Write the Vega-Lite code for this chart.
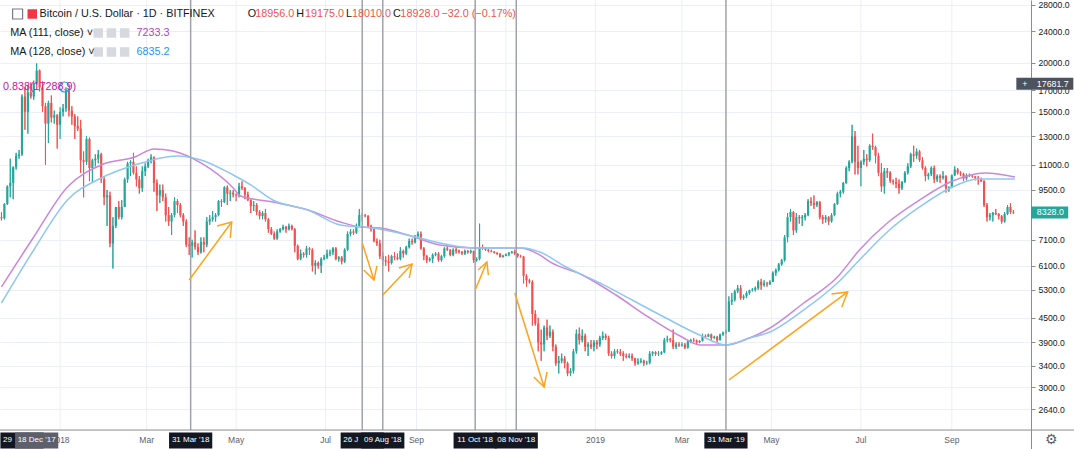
{
  "$schema": "https://vega.github.io/schema/vega-lite/v6.json",
  "width": 1031,
  "height": 449,
  "autosize": {"type": "none"},
  "padding": {"left": 0, "top": 0, "right": 43, "bottom": 0},
  "background": "white",
  "config": {"view": {"stroke": null}, "font": "Liberation Sans"},
  "datasets": {
    "c": [
      {"t":"2017-11-22","o":8100,"h":8350,"l":7950,"c":8050},
      {"t":"2017-11-24","o":8050,"h":8800,"l":8000,"c":8750},
      {"t":"2017-11-26","o":8750,"h":9750,"l":8700,"c":9700},
      {"t":"2017-11-28","o":9700,"h":11400,"l":9100,"c":9900},
      {"t":"2017-11-30","o":9900,"h":10900,"l":9000,"c":10850},
      {"t":"2017-12-02","o":10850,"h":11800,"l":10700,"c":11600},
      {"t":"2017-12-04","o":11600,"h":12000,"l":11400,"c":11700},
      {"t":"2017-12-06","o":11700,"h":16600,"l":11600,"c":16400},
      {"t":"2017-12-08","o":16400,"h":17300,"l":13500,"c":15000},
      {"t":"2017-12-10","o":15000,"h":17500,"l":13200,"c":16800},
      {"t":"2017-12-12","o":16800,"h":17800,"l":16200,"c":16400},
      {"t":"2017-12-14","o":16400,"h":18000,"l":16100,"c":17700},
      {"t":"2017-12-16","o":17700,"h":19900,"l":17600,"c":19100},
      {"t":"2017-12-18","o":19100,"h":19200,"l":16900,"c":17300},
      {"t":"2017-12-20","o":17300,"h":17900,"l":15000,"c":15500},
      {"t":"2017-12-22","o":15500,"h":15800,"l":11000,"c":14000},
      {"t":"2017-12-24","o":14000,"h":16000,"l":12500,"c":15800},
      {"t":"2017-12-26","o":15800,"h":16500,"l":14100,"c":14500},
      {"t":"2017-12-28","o":14500,"h":15100,"l":14000,"c":14700},
      {"t":"2017-12-30","o":14700,"h":14800,"l":12100,"c":13900},
      {"t":"2018-01-01","o":13900,"h":15400,"l":12800,"c":15000},
      {"t":"2018-01-03","o":15000,"h":15700,"l":14600,"c":15300},
      {"t":"2018-01-05","o":15300,"h":17300,"l":15000,"c":17000},
      {"t":"2018-01-07","o":17000,"h":17100,"l":14600,"c":15100},
      {"t":"2018-01-09","o":15100,"h":15500,"l":13900,"c":14600},
      {"t":"2018-01-11","o":14600,"h":14800,"l":12800,"c":13800},
      {"t":"2018-01-13","o":13800,"h":14600,"l":13400,"c":13600},
      {"t":"2018-01-15","o":13600,"h":14300,"l":10500,"c":11300},
      {"t":"2018-01-17","o":11300,"h":11900,"l":9100,"c":11200},
      {"t":"2018-01-19","o":11200,"h":13000,"l":11000,"c":12800},
      {"t":"2018-01-21","o":12800,"h":12900,"l":10000,"c":10800},
      {"t":"2018-01-23","o":10800,"h":11400,"l":9900,"c":11300},
      {"t":"2018-01-25","o":11300,"h":11700,"l":10900,"c":11400},
      {"t":"2018-01-27","o":11400,"h":12000,"l":11100,"c":11700},
      {"t":"2018-01-29","o":11700,"h":11800,"l":9900,"c":10100},
      {"t":"2018-01-31","o":10100,"h":10300,"l":8700,"c":9100},
      {"t":"2018-02-02","o":9100,"h":9500,"l":7700,"c":9200},
      {"t":"2018-02-04","o":9200,"h":9400,"l":6800,"c":6950},
      {"t":"2018-02-06","o":6950,"h":8100,"l":6000,"c":7700},
      {"t":"2018-02-08","o":7700,"h":8600,"l":7600,"c":8600},
      {"t":"2018-02-10","o":8600,"h":8900,"l":8000,"c":8100},
      {"t":"2018-02-12","o":8100,"h":8950,"l":8000,"c":8600},
      {"t":"2018-02-14","o":8600,"h":10200,"l":8600,"c":10100},
      {"t":"2018-02-16","o":10100,"h":11200,"l":9900,"c":11100},
      {"t":"2018-02-18","o":11100,"h":11300,"l":10300,"c":11200},
      {"t":"2018-02-20","o":11200,"h":11800,"l":10400,"c":10500},
      {"t":"2018-02-22","o":10500,"h":10900,"l":9700,"c":10100},
      {"t":"2018-02-24","o":10100,"h":10300,"l":9300,"c":9600},
      {"t":"2018-02-26","o":9600,"h":10900,"l":9400,"c":10600},
      {"t":"2018-02-28","o":10600,"h":11100,"l":10300,"c":10900},
      {"t":"2018-03-02","o":10900,"h":11400,"l":10800,"c":11300},
      {"t":"2018-03-04","o":11300,"h":11700,"l":11100,"c":11500},
      {"t":"2018-03-06","o":11500,"h":11550,"l":9400,"c":9900},
      {"t":"2018-03-08","o":9900,"h":10100,"l":8400,"c":9200},
      {"t":"2018-03-10","o":9200,"h":9800,"l":8800,"c":9500},
      {"t":"2018-03-12","o":9500,"h":9800,"l":8900,"c":9100},
      {"t":"2018-03-14","o":9100,"h":9300,"l":7900,"c":8200},
      {"t":"2018-03-16","o":8200,"h":8600,"l":7700,"c":7900},
      {"t":"2018-03-18","o":7900,"h":8300,"l":7300,"c":8200},
      {"t":"2018-03-20","o":8200,"h":9100,"l":8100,"c":8900},
      {"t":"2018-03-22","o":8900,"h":9000,"l":8300,"c":8700},
      {"t":"2018-03-24","o":8700,"h":8800,"l":8100,"c":8200},
      {"t":"2018-03-26","o":8200,"h":8300,"l":7700,"c":7900},
      {"t":"2018-03-28","o":7900,"h":8000,"l":6800,"c":6900},
      {"t":"2018-03-30","o":6900,"h":7200,"l":6500,"c":6850},
      {"t":"2018-04-01","o":6850,"h":7100,"l":6400,"c":7000},
      {"t":"2018-04-03","o":7000,"h":7500,"l":6700,"c":6800},
      {"t":"2018-04-05","o":6800,"h":6950,"l":6500,"c":6600},
      {"t":"2018-04-07","o":6600,"h":7200,"l":6550,"c":7000},
      {"t":"2018-04-09","o":7000,"h":7200,"l":6600,"c":6900},
      {"t":"2018-04-11","o":6900,"h":8100,"l":6800,"c":7900},
      {"t":"2018-04-13","o":7900,"h":8200,"l":7750,"c":8000},
      {"t":"2018-04-15","o":8000,"h":8400,"l":7900,"c":8100},
      {"t":"2018-04-17","o":8100,"h":8300,"l":7900,"c":8200},
      {"t":"2018-04-19","o":8200,"h":8950,"l":8150,"c":8900},
      {"t":"2018-04-21","o":8900,"h":9000,"l":8600,"c":8850},
      {"t":"2018-04-23","o":8850,"h":9700,"l":8800,"c":9650},
      {"t":"2018-04-25","o":9650,"h":9750,"l":8700,"c":9300},
      {"t":"2018-04-27","o":9300,"h":9500,"l":8900,"c":9350},
      {"t":"2018-04-29","o":9350,"h":9500,"l":9100,"c":9250},
      {"t":"2018-05-01","o":9250,"h":9300,"l":8900,"c":9200},
      {"t":"2018-05-03","o":9200,"h":9900,"l":9100,"c":9700},
      {"t":"2018-05-05","o":9700,"h":9990,"l":9500,"c":9600},
      {"t":"2018-05-07","o":9600,"h":9650,"l":9000,"c":9250},
      {"t":"2018-05-09","o":9250,"h":9400,"l":8900,"c":8950},
      {"t":"2018-05-11","o":8950,"h":9000,"l":8300,"c":8650},
      {"t":"2018-05-13","o":8650,"h":8900,"l":8400,"c":8700},
      {"t":"2018-05-15","o":8700,"h":8800,"l":8200,"c":8350},
      {"t":"2018-05-17","o":8350,"h":8450,"l":8000,"c":8150},
      {"t":"2018-05-19","o":8150,"h":8400,"l":8000,"c":8300},
      {"t":"2018-05-21","o":8300,"h":8500,"l":7900,"c":8000},
      {"t":"2018-05-23","o":8000,"h":8050,"l":7400,"c":7550},
      {"t":"2018-05-25","o":7550,"h":7650,"l":7300,"c":7350},
      {"t":"2018-05-27","o":7350,"h":7450,"l":7100,"c":7150},
      {"t":"2018-05-29","o":7150,"h":7550,"l":7100,"c":7450},
      {"t":"2018-05-31","o":7450,"h":7600,"l":7400,"c":7550},
      {"t":"2018-06-02","o":7550,"h":7750,"l":7500,"c":7650},
      {"t":"2018-06-04","o":7650,"h":7700,"l":7400,"c":7550},
      {"t":"2018-06-06","o":7550,"h":7800,"l":7500,"c":7700},
      {"t":"2018-06-08","o":7700,"h":7750,"l":7500,"c":7550},
      {"t":"2018-06-10","o":7550,"h":7600,"l":6600,"c":6850},
      {"t":"2018-06-12","o":6850,"h":6900,"l":6300,"c":6350},
      {"t":"2018-06-14","o":6350,"h":6700,"l":6300,"c":6550},
      {"t":"2018-06-16","o":6550,"h":6600,"l":6400,"c":6500},
      {"t":"2018-06-18","o":6500,"h":6850,"l":6400,"c":6750},
      {"t":"2018-06-20","o":6750,"h":6800,"l":6500,"c":6700},
      {"t":"2018-06-22","o":6700,"h":6750,"l":5900,"c":6100},
      {"t":"2018-06-24","o":6100,"h":6300,"l":5800,"c":6200},
      {"t":"2018-06-26","o":6200,"h":6250,"l":6000,"c":6100},
      {"t":"2018-06-28","o":6100,"h":6400,"l":5850,"c":6350},
      {"t":"2018-06-30","o":6350,"h":6500,"l":6300,"c":6400},
      {"t":"2018-07-02","o":6400,"h":6700,"l":6350,"c":6550},
      {"t":"2018-07-04","o":6550,"h":6700,"l":6450,"c":6600},
      {"t":"2018-07-06","o":6600,"h":6800,"l":6500,"c":6750},
      {"t":"2018-07-08","o":6750,"h":6800,"l":6300,"c":6350},
      {"t":"2018-07-10","o":6350,"h":6450,"l":6250,"c":6400},
      {"t":"2018-07-12","o":6400,"h":6450,"l":6150,"c":6250},
      {"t":"2018-07-14","o":6250,"h":6750,"l":6200,"c":6700},
      {"t":"2018-07-16","o":6700,"h":7450,"l":6650,"c":7350},
      {"t":"2018-07-18","o":7350,"h":7550,"l":7250,"c":7450},
      {"t":"2018-07-20","o":7450,"h":7550,"l":7300,"c":7400},
      {"t":"2018-07-22","o":7400,"h":7800,"l":7350,"c":7700},
      {"t":"2018-07-24","o":7700,"h":8500,"l":7650,"c":8200},
      {"t":"2018-07-26","o":8200,"h":8300,"l":7900,"c":8180},
      {"t":"2018-07-28","o":8180,"h":8250,"l":8100,"c":8150},
      {"t":"2018-07-30","o":8150,"h":8200,"l":7600,"c":7700},
      {"t":"2018-08-01","o":7700,"h":7750,"l":7450,"c":7550},
      {"t":"2018-08-03","o":7550,"h":7600,"l":7000,"c":7050},
      {"t":"2018-08-05","o":7050,"h":7150,"l":6850,"c":6950},
      {"t":"2018-08-07","o":6950,"h":7100,"l":6350,"c":6450},
      {"t":"2018-08-09","o":6450,"h":6600,"l":6100,"c":6300},
      {"t":"2018-08-11","o":6300,"h":6450,"l":6100,"c":6250},
      {"t":"2018-08-13","o":6250,"h":6500,"l":5900,"c":6200},
      {"t":"2018-08-15","o":6200,"h":6500,"l":6150,"c":6450},
      {"t":"2018-08-17","o":6450,"h":6600,"l":6300,"c":6400},
      {"t":"2018-08-19","o":6400,"h":6550,"l":6300,"c":6350},
      {"t":"2018-08-21","o":6350,"h":6800,"l":6300,"c":6650},
      {"t":"2018-08-23","o":6650,"h":6700,"l":6400,"c":6550},
      {"t":"2018-08-25","o":6550,"h":6850,"l":6500,"c":6800},
      {"t":"2018-08-27","o":6800,"h":7150,"l":6750,"c":7050},
      {"t":"2018-08-29","o":7050,"h":7150,"l":6900,"c":7000},
      {"t":"2018-08-31","o":7000,"h":7300,"l":6950,"c":7250},
      {"t":"2018-09-02","o":7250,"h":7450,"l":7200,"c":7350},
      {"t":"2018-09-04","o":7350,"h":7450,"l":6700,"c":6750},
      {"t":"2018-09-06","o":6750,"h":6800,"l":6300,"c":6450},
      {"t":"2018-09-08","o":6450,"h":6500,"l":6200,"c":6300},
      {"t":"2018-09-10","o":6300,"h":6400,"l":6250,"c":6350},
      {"t":"2018-09-12","o":6350,"h":6550,"l":6200,"c":6500},
      {"t":"2018-09-14","o":6500,"h":6600,"l":6450,"c":6550},
      {"t":"2018-09-16","o":6550,"h":6600,"l":6250,"c":6300},
      {"t":"2018-09-18","o":6300,"h":6500,"l":6250,"c":6450},
      {"t":"2018-09-20","o":6450,"h":6800,"l":6400,"c":6750},
      {"t":"2018-09-22","o":6750,"h":6850,"l":6650,"c":6700},
      {"t":"2018-09-24","o":6700,"h":6720,"l":6450,"c":6500},
      {"t":"2018-09-26","o":6500,"h":6750,"l":6450,"c":6700},
      {"t":"2018-09-28","o":6700,"h":6800,"l":6550,"c":6650},
      {"t":"2018-09-30","o":6650,"h":6700,"l":6550,"c":6600},
      {"t":"2018-10-02","o":6600,"h":6650,"l":6500,"c":6550},
      {"t":"2018-10-04","o":6550,"h":6700,"l":6500,"c":6650},
      {"t":"2018-10-06","o":6650,"h":6680,"l":6550,"c":6600},
      {"t":"2018-10-08","o":6600,"h":6700,"l":6550,"c":6650},
      {"t":"2018-10-10","o":6650,"h":6660,"l":6200,"c":6300},
      {"t":"2018-10-12","o":6300,"h":6400,"l":6250,"c":6350},
      {"t":"2018-10-14","o":6350,"h":7800,"l":6300,"c":6800},
      {"t":"2018-10-16","o":6800,"h":6900,"l":6700,"c":6750},
      {"t":"2018-10-18","o":6750,"h":6800,"l":6650,"c":6700},
      {"t":"2018-10-20","o":6700,"h":6720,"l":6600,"c":6650},
      {"t":"2018-10-22","o":6650,"h":6700,"l":6600,"c":6620},
      {"t":"2018-10-24","o":6620,"h":6650,"l":6550,"c":6580},
      {"t":"2018-10-26","o":6580,"h":6600,"l":6500,"c":6540},
      {"t":"2018-10-28","o":6540,"h":6560,"l":6400,"c":6420},
      {"t":"2018-10-30","o":6420,"h":6500,"l":6400,"c":6460},
      {"t":"2018-11-01","o":6460,"h":6550,"l":6450,"c":6520},
      {"t":"2018-11-03","o":6520,"h":6600,"l":6450,"c":6580},
      {"t":"2018-11-05","o":6580,"h":6650,"l":6550,"c":6620},
      {"t":"2018-11-07","o":6620,"h":6700,"l":6500,"c":6540},
      {"t":"2018-11-09","o":6540,"h":6560,"l":6400,"c":6450},
      {"t":"2018-11-11","o":6450,"h":6500,"l":6400,"c":6440},
      {"t":"2018-11-13","o":6440,"h":6460,"l":5500,"c":5750},
      {"t":"2018-11-15","o":5750,"h":5800,"l":5400,"c":5600},
      {"t":"2018-11-17","o":5600,"h":5650,"l":5500,"c":5550},
      {"t":"2018-11-19","o":5550,"h":5600,"l":4300,"c":4600},
      {"t":"2018-11-21","o":4600,"h":4700,"l":4300,"c":4350},
      {"t":"2018-11-23","o":4350,"h":4500,"l":3700,"c":3900},
      {"t":"2018-11-25","o":3900,"h":4200,"l":3500,"c":3850},
      {"t":"2018-11-27","o":3850,"h":4300,"l":3700,"c":4250},
      {"t":"2018-11-29","o":4250,"h":4450,"l":3950,"c":4050},
      {"t":"2018-12-01","o":4050,"h":4300,"l":4000,"c":4150},
      {"t":"2018-12-03","o":4150,"h":4200,"l":3700,"c":3800},
      {"t":"2018-12-05","o":3800,"h":3850,"l":3400,"c":3450},
      {"t":"2018-12-07","o":3450,"h":3600,"l":3250,"c":3500},
      {"t":"2018-12-09","o":3500,"h":3650,"l":3450,"c":3550},
      {"t":"2018-12-11","o":3550,"h":3600,"l":3350,"c":3450},
      {"t":"2018-12-13","o":3450,"h":3480,"l":3200,"c":3250},
      {"t":"2018-12-15","o":3250,"h":3350,"l":3200,"c":3300},
      {"t":"2018-12-17","o":3300,"h":3750,"l":3250,"c":3700},
      {"t":"2018-12-19","o":3700,"h":4200,"l":3650,"c":4100},
      {"t":"2018-12-21","o":4100,"h":4250,"l":3850,"c":3950},
      {"t":"2018-12-23","o":3950,"h":4200,"l":3900,"c":4050},
      {"t":"2018-12-25","o":4050,"h":4100,"l":3700,"c":3800},
      {"t":"2018-12-27","o":3800,"h":3900,"l":3600,"c":3850},
      {"t":"2018-12-29","o":3850,"h":3950,"l":3750,"c":3800},
      {"t":"2018-12-31","o":3800,"h":3950,"l":3700,"c":3900},
      {"t":"2019-01-02","o":3900,"h":3950,"l":3750,"c":3850},
      {"t":"2019-01-04","o":3850,"h":4050,"l":3800,"c":4000},
      {"t":"2019-01-06","o":4000,"h":4150,"l":3950,"c":4050},
      {"t":"2019-01-08","o":4050,"h":4100,"l":3950,"c":4000},
      {"t":"2019-01-10","o":4000,"h":4050,"l":3600,"c":3650},
      {"t":"2019-01-12","o":3650,"h":3700,"l":3550,"c":3600},
      {"t":"2019-01-14","o":3600,"h":3750,"l":3550,"c":3700},
      {"t":"2019-01-16","o":3700,"h":3750,"l":3650,"c":3680},
      {"t":"2019-01-18","o":3680,"h":3750,"l":3600,"c":3650},
      {"t":"2019-01-20","o":3650,"h":3700,"l":3500,"c":3600},
      {"t":"2019-01-22","o":3600,"h":3650,"l":3550,"c":3580},
      {"t":"2019-01-24","o":3580,"h":3650,"l":3550,"c":3600},
      {"t":"2019-01-26","o":3600,"h":3650,"l":3500,"c":3550},
      {"t":"2019-01-28","o":3550,"h":3560,"l":3400,"c":3450},
      {"t":"2019-01-30","o":3450,"h":3550,"l":3420,"c":3480},
      {"t":"2019-02-01","o":3480,"h":3550,"l":3450,"c":3500},
      {"t":"2019-02-03","o":3500,"h":3520,"l":3400,"c":3450},
      {"t":"2019-02-05","o":3450,"h":3500,"l":3420,"c":3460},
      {"t":"2019-02-07","o":3460,"h":3700,"l":3430,"c":3650},
      {"t":"2019-02-09","o":3650,"h":3700,"l":3600,"c":3680},
      {"t":"2019-02-11","o":3680,"h":3700,"l":3600,"c":3640},
      {"t":"2019-02-13","o":3640,"h":3700,"l":3600,"c":3650},
      {"t":"2019-02-15","o":3650,"h":3700,"l":3620,"c":3680},
      {"t":"2019-02-17","o":3680,"h":4000,"l":3660,"c":3950},
      {"t":"2019-02-19","o":3950,"h":4050,"l":3900,"c":3970},
      {"t":"2019-02-21","o":3970,"h":4000,"l":3900,"c":3950},
      {"t":"2019-02-23","o":3950,"h":4200,"l":3750,"c":3800},
      {"t":"2019-02-25","o":3800,"h":3900,"l":3750,"c":3850},
      {"t":"2019-02-27","o":3850,"h":3900,"l":3800,"c":3830},
      {"t":"2019-03-01","o":3830,"h":3900,"l":3800,"c":3850},
      {"t":"2019-03-03","o":3850,"h":3880,"l":3750,"c":3780},
      {"t":"2019-03-05","o":3780,"h":3950,"l":3760,"c":3920},
      {"t":"2019-03-07","o":3920,"h":3980,"l":3880,"c":3950},
      {"t":"2019-03-09","o":3950,"h":4000,"l":3900,"c":3940},
      {"t":"2019-03-11","o":3940,"h":3960,"l":3860,"c":3900},
      {"t":"2019-03-13","o":3900,"h":3950,"l":3880,"c":3930},
      {"t":"2019-03-15","o":3930,"h":4100,"l":3920,"c":4050},
      {"t":"2019-03-17","o":4050,"h":4080,"l":4000,"c":4030},
      {"t":"2019-03-19","o":4030,"h":4100,"l":4020,"c":4080},
      {"t":"2019-03-21","o":4080,"h":4100,"l":3950,"c":4000},
      {"t":"2019-03-23","o":4000,"h":4050,"l":3980,"c":4020},
      {"t":"2019-03-25","o":4020,"h":4050,"l":3900,"c":3950},
      {"t":"2019-03-27","o":3950,"h":4100,"l":3940,"c":4080},
      {"t":"2019-03-29","o":4080,"h":4150,"l":4050,"c":4120},
      {"t":"2019-03-31","o":4120,"h":4200,"l":4100,"c":4150},
      {"t":"2019-04-02","o":4150,"h":5100,"l":4150,"c":4950},
      {"t":"2019-04-04","o":4950,"h":5200,"l":4850,"c":5000},
      {"t":"2019-04-06","o":5000,"h":5300,"l":4950,"c":5250},
      {"t":"2019-04-08","o":5250,"h":5450,"l":5200,"c":5350},
      {"t":"2019-04-10","o":5350,"h":5450,"l":5000,"c":5050},
      {"t":"2019-04-12","o":5050,"h":5150,"l":5000,"c":5100},
      {"t":"2019-04-14","o":5100,"h":5250,"l":5050,"c":5200},
      {"t":"2019-04-16","o":5200,"h":5300,"l":5150,"c":5280},
      {"t":"2019-04-18","o":5280,"h":5350,"l":5250,"c":5300},
      {"t":"2019-04-20","o":5300,"h":5400,"l":5250,"c":5350},
      {"t":"2019-04-22","o":5350,"h":5600,"l":5300,"c":5550},
      {"t":"2019-04-24","o":5550,"h":5650,"l":5300,"c":5450},
      {"t":"2019-04-26","o":5450,"h":5600,"l":5400,"c":5500},
      {"t":"2019-04-28","o":5500,"h":5550,"l":5400,"c":5480},
      {"t":"2019-04-30","o":5480,"h":5600,"l":5450,"c":5550},
      {"t":"2019-05-02","o":5550,"h":5900,"l":5550,"c":5850},
      {"t":"2019-05-04","o":5850,"h":6000,"l":5750,"c":5950},
      {"t":"2019-05-06","o":5950,"h":6200,"l":5900,"c":6150},
      {"t":"2019-05-08","o":6150,"h":6350,"l":6100,"c":6300},
      {"t":"2019-05-10","o":6300,"h":7300,"l":6250,"c":7200},
      {"t":"2019-05-12","o":7200,"h":8300,"l":7000,"c":8100},
      {"t":"2019-05-14","o":8100,"h":8500,"l":7900,"c":8350},
      {"t":"2019-05-16","o":8350,"h":8400,"l":7300,"c":7500},
      {"t":"2019-05-18","o":7500,"h":8300,"l":7400,"c":8100},
      {"t":"2019-05-20","o":8100,"h":8200,"l":7800,"c":8050},
      {"t":"2019-05-22","o":8050,"h":8200,"l":7700,"c":8100},
      {"t":"2019-05-24","o":8100,"h":8300,"l":7950,"c":8200},
      {"t":"2019-05-26","o":8200,"h":9000,"l":8150,"c":8900},
      {"t":"2019-05-28","o":8900,"h":9100,"l":8650,"c":8800},
      {"t":"2019-05-30","o":8800,"h":9200,"l":8500,"c":8700},
      {"t":"2019-06-01","o":8700,"h":8900,"l":8600,"c":8850},
      {"t":"2019-06-03","o":8850,"h":8900,"l":8000,"c":8100},
      {"t":"2019-06-05","o":8100,"h":8200,"l":7800,"c":8000},
      {"t":"2019-06-07","o":8000,"h":8200,"l":7850,"c":8100},
      {"t":"2019-06-09","o":8100,"h":8150,"l":7750,"c":7900},
      {"t":"2019-06-11","o":7900,"h":8300,"l":7850,"c":8200},
      {"t":"2019-06-13","o":8200,"h":8800,"l":8150,"c":8750},
      {"t":"2019-06-15","o":8750,"h":9400,"l":8700,"c":9300},
      {"t":"2019-06-17","o":9300,"h":9500,"l":9100,"c":9400},
      {"t":"2019-06-19","o":9400,"h":9950,"l":9300,"c":9900},
      {"t":"2019-06-21","o":9900,"h":10900,"l":9850,"c":10800},
      {"t":"2019-06-23","o":10800,"h":11300,"l":10600,"c":11200},
      {"t":"2019-06-25","o":11200,"h":13900,"l":11100,"c":13000},
      {"t":"2019-06-27","o":13000,"h":13400,"l":10400,"c":11200},
      {"t":"2019-06-29","o":11200,"h":12300,"l":10400,"c":10800},
      {"t":"2019-07-01","o":10800,"h":11300,"l":9700,"c":11200},
      {"t":"2019-07-03","o":11200,"h":12000,"l":11000,"c":11400},
      {"t":"2019-07-05","o":11400,"h":11700,"l":10900,"c":11300},
      {"t":"2019-07-07","o":11300,"h":12400,"l":11200,"c":12300},
      {"t":"2019-07-09","o":12300,"h":13200,"l":12000,"c":12200},
      {"t":"2019-07-11","o":12200,"h":12300,"l":11100,"c":11600},
      {"t":"2019-07-13","o":11600,"h":11800,"l":10300,"c":10500},
      {"t":"2019-07-15","o":10500,"h":11100,"l":9400,"c":9700},
      {"t":"2019-07-17","o":9700,"h":10800,"l":9300,"c":10600},
      {"t":"2019-07-19","o":10600,"h":10800,"l":10200,"c":10500},
      {"t":"2019-07-21","o":10500,"h":10600,"l":9900,"c":10000},
      {"t":"2019-07-23","o":10000,"h":10100,"l":9800,"c":9950},
      {"t":"2019-07-25","o":9950,"h":10200,"l":9600,"c":9850},
      {"t":"2019-07-27","o":9850,"h":10100,"l":9300,"c":9600},
      {"t":"2019-07-29","o":9600,"h":10000,"l":9500,"c":9950},
      {"t":"2019-07-31","o":9950,"h":10600,"l":9900,"c":10500},
      {"t":"2019-08-02","o":10500,"h":11100,"l":10400,"c":10900},
      {"t":"2019-08-04","o":10900,"h":11800,"l":10800,"c":11700},
      {"t":"2019-08-06","o":11700,"h":12300,"l":11200,"c":11600},
      {"t":"2019-08-08","o":11600,"h":12100,"l":11400,"c":11900},
      {"t":"2019-08-10","o":11900,"h":12000,"l":11200,"c":11300},
      {"t":"2019-08-12","o":11300,"h":11500,"l":10700,"c":10800},
      {"t":"2019-08-14","o":10800,"h":10900,"l":10000,"c":10300},
      {"t":"2019-08-16","o":10300,"h":10500,"l":10100,"c":10400},
      {"t":"2019-08-18","o":10400,"h":10900,"l":10300,"c":10800},
      {"t":"2019-08-20","o":10800,"h":10950,"l":9900,"c":10100},
      {"t":"2019-08-22","o":10100,"h":10400,"l":9950,"c":10300},
      {"t":"2019-08-24","o":10300,"h":10400,"l":9900,"c":10200},
      {"t":"2019-08-26","o":10200,"h":10600,"l":10100,"c":10300},
      {"t":"2019-08-28","o":10300,"h":10350,"l":9350,"c":9600},
      {"t":"2019-08-30","o":9600,"h":9700,"l":9400,"c":9650},
      {"t":"2019-09-01","o":9650,"h":10400,"l":9600,"c":10350},
      {"t":"2019-09-03","o":10350,"h":10900,"l":10300,"c":10700},
      {"t":"2019-09-05","o":10700,"h":10800,"l":10400,"c":10500},
      {"t":"2019-09-07","o":10500,"h":10600,"l":10300,"c":10450},
      {"t":"2019-09-09","o":10450,"h":10500,"l":10000,"c":10150},
      {"t":"2019-09-11","o":10150,"h":10450,"l":10050,"c":10350},
      {"t":"2019-09-13","o":10350,"h":10450,"l":10250,"c":10300},
      {"t":"2019-09-15","o":10300,"h":10400,"l":10200,"c":10280},
      {"t":"2019-09-17","o":10280,"h":10300,"l":10050,"c":10200},
      {"t":"2019-09-19","o":10200,"h":10300,"l":9800,"c":10150},
      {"t":"2019-09-21","o":10150,"h":10200,"l":9950,"c":10000},
      {"t":"2019-09-23","o":10000,"h":10050,"l":8600,"c":8700},
      {"t":"2019-09-25","o":8700,"h":8800,"l":7900,"c":8100},
      {"t":"2019-09-27","o":8100,"h":8300,"l":7950,"c":8200},
      {"t":"2019-09-29","o":8200,"h":8350,"l":7900,"c":8300},
      {"t":"2019-10-01","o":8300,"h":8500,"l":8200,"c":8250},
      {"t":"2019-10-03","o":8250,"h":8300,"l":8000,"c":8150},
      {"t":"2019-10-05","o":8150,"h":8200,"l":7800,"c":7900},
      {"t":"2019-10-07","o":7900,"h":8350,"l":7850,"c":8250},
      {"t":"2019-10-09","o":8250,"h":8700,"l":8200,"c":8600},
      {"t":"2019-10-11","o":8600,"h":8800,"l":8250,"c":8350},
      {"t":"2019-10-13","o":8350,"h":8450,"l":8250,"c":8328}
    ],
    "ma": [
      {"t":"2017-11-22","v":5390,"s":"a"},{"t":"2017-12-14","v":7216,"s":"a"},{"t":"2018-01-06","v":9666,"s":"a"},
      {"t":"2018-01-29","v":10993,"s":"a"},{"t":"2018-02-21","v":11517,"s":"a"},{"t":"2018-03-06","v":12068,"s":"a"},
      {"t":"2018-03-19","v":11928,"s":"a"},{"t":"2018-04-07","v":11122,"s":"a"},{"t":"2018-04-29","v":9610,"s":"a"},
      {"t":"2018-05-04","v":9170,"s":"a"},{"t":"2018-05-26","v":8854,"s":"a"},{"t":"2018-06-19","v":8450,"s":"a"},
      {"t":"2018-07-11","v":7876,"s":"a"},{"t":"2018-07-25","v":7650,"s":"a"},{"t":"2018-08-07","v":7605,"s":"a"},
      {"t":"2018-08-26","v":7302,"s":"a"},{"t":"2018-09-17","v":6885,"s":"a"},{"t":"2018-10-10","v":6768,"s":"a"},
      {"t":"2018-11-02","v":6768,"s":"a"},{"t":"2018-11-11","v":6768,"s":"a"},{"t":"2018-11-24","v":6496,"s":"a"},
      {"t":"2018-12-01","v":6236,"s":"a"},{"t":"2018-12-23","v":5779,"s":"a"},{"t":"2019-01-15","v":5141,"s":"a"},
      {"t":"2019-02-06","v":4522,"s":"a"},{"t":"2019-03-01","v":4021,"s":"a"},{"t":"2019-03-13","v":3839,"s":"a"},
      {"t":"2019-03-31","v":3839,"s":"a"},{"t":"2019-04-16","v":3998,"s":"a"},{"t":"2019-04-30","v":4239,"s":"a"},
      {"t":"2019-05-23","v":4906,"s":"a"},{"t":"2019-06-15","v":5712,"s":"a"},{"t":"2019-06-30","v":6688,"s":"a"},
      {"t":"2019-07-19","v":7832,"s":"a"},{"t":"2019-08-10","v":8957,"s":"a"},{"t":"2019-08-31","v":9951,"s":"a"},
      {"t":"2019-09-24","v":10489,"s":"a"},{"t":"2019-10-14","v":10245,"s":"a"},
      {"t":"2017-11-22","v":4906,"s":"b"},{"t":"2017-12-14","v":6688,"s":"b"},{"t":"2018-01-06","v":8957,"s":"b"},
      {"t":"2018-01-29","v":10187,"s":"b"},{"t":"2018-02-21","v":10993,"s":"b"},{"t":"2018-03-22","v":11586,"s":"b"},
      {"t":"2018-04-07","v":11318,"s":"b"},{"t":"2018-04-29","v":10366,"s":"b"},{"t":"2018-05-11","v":9781,"s":"b"},
      {"t":"2018-05-26","v":8957,"s":"b"},{"t":"2018-06-19","v":8450,"s":"b"},{"t":"2018-07-11","v":7742,"s":"b"},
      {"t":"2018-08-02","v":7605,"s":"b"},{"t":"2018-08-26","v":7302,"s":"b"},{"t":"2018-09-17","v":6967,"s":"b"},
      {"t":"2018-10-10","v":6768,"s":"b"},{"t":"2018-11-13","v":6768,"s":"b"},{"t":"2018-11-24","v":6611,"s":"b"},
      {"t":"2018-12-12","v":6056,"s":"b"},{"t":"2019-01-04","v":5516,"s":"b"},{"t":"2019-01-26","v":4992,"s":"b"},
      {"t":"2019-02-18","v":4494,"s":"b"},{"t":"2019-03-13","v":4068,"s":"b"},{"t":"2019-03-31","v":3839,"s":"b"},
      {"t":"2019-04-16","v":3998,"s":"b"},{"t":"2019-04-30","v":4141,"s":"b"},{"t":"2019-05-23","v":4710,"s":"b"},
      {"t":"2019-06-15","v":5516,"s":"b"},{"t":"2019-06-30","v":6308,"s":"b"},{"t":"2019-07-19","v":7431,"s":"b"},
      {"t":"2019-08-10","v":8599,"s":"b"},{"t":"2019-08-31","v":9610,"s":"b"},{"t":"2019-09-19","v":10128,"s":"b"},
      {"t":"2019-10-14","v":10128,"s":"b"}
    ],
    "ar": [
      {"g":"1s","i":0,"t":"2018-03-30","p":5614},{"g":"1s","i":1,"t":"2018-04-28","p":7876},
      {"g":"1h","i":0,"t":"2018-04-18","p":7695},{"g":"1h","i":1,"t":"2018-04-28","p":7876},{"g":"1h","i":2,"t":"2018-04-27","p":7174},
      {"g":"2s","i":0,"t":"2018-07-26","p":6967},{"g":"2s","i":1,"t":"2018-08-03","p":5614},
      {"g":"2h","i":0,"t":"2018-08-05","p":6093},{"g":"2h","i":1,"t":"2018-08-03","p":5614},{"g":"2h","i":2,"t":"2018-07-27","p":5950},
      {"g":"3s","i":0,"t":"2018-08-09","p":5141},{"g":"3s","i":1,"t":"2018-08-29","p":6163},
      {"g":"3h","i":0,"t":"2018-08-20","p":6020},{"g":"3h","i":1,"t":"2018-08-29","p":6163},{"g":"3h","i":2,"t":"2018-08-27","p":5679},
      {"g":"4s","i":0,"t":"2018-10-11","p":5295},{"g":"4s","i":1,"t":"2018-10-19","p":6236},
      {"g":"4h","i":0,"t":"2018-10-13","p":5950},{"g":"4h","i":1,"t":"2018-10-19","p":6236},{"g":"4h","i":2,"t":"2018-10-20","p":5779},
      {"g":"5s","i":0,"t":"2018-11-07","p":5202},{"g":"5s","i":1,"t":"2018-11-27","p":3004},
      {"g":"5h","i":0,"t":"2018-11-29","p":3279},{"g":"5h","i":1,"t":"2018-11-27","p":3004},{"g":"5h","i":2,"t":"2018-11-20","p":3184},
      {"g":"6s","i":0,"t":"2019-04-02","p":3128},{"g":"6s","i":1,"t":"2019-06-22","p":5233},
      {"g":"6h","i":0,"t":"2019-06-11","p":5172},{"g":"6h","i":1,"t":"2019-06-22","p":5233},{"g":"6h","i":2,"t":"2019-06-18","p":4793}
    ],
    "ev": [
      {"t":"2018-03-31"},{"t":"2018-07-26"},{"t":"2018-08-09"},{"t":"2018-10-11"},{"t":"2018-11-08"},{"t":"2019-03-31"}
    ],
    "mo": [
      {"t":"2018-01-01","s":"2018","k":"m"},{"t":"2018-03-01","s":"Mar","k":"m"},{"t":"2018-05-01","s":"May","k":"m"},
      {"t":"2018-07-01","s":"Jul","k":"m"},{"t":"2018-09-01","s":"Sep","k":"m"},{"t":"2018-11-01","s":"Nov","k":"n"},
      {"t":"2019-01-01","s":"2019","k":"m"},{"t":"2019-03-01","s":"Mar","k":"m"},{"t":"2019-05-01","s":"May","k":"m"},
      {"t":"2019-07-01","s":"Jul","k":"m"},{"t":"2019-09-01","s":"Sep","k":"m"},{"t":"2019-11-08","s":"⚙","k":"gear"}
    ],
    "bx": [
      {"t":"2017-12-06","s":"29 Nov '17","k":"b","z":0},
      {"t":"2018-07-26","s":"26 Jul '18","k":"b","z":0},
      {"t":"2017-12-16","s":"18 Dec '17","k":"g","z":1},
      {"t":"2018-03-31","s":"31 Mar '18","k":"b","z":1},
      {"t":"2018-08-09","s":"09 Aug '18","k":"b","z":1},
      {"t":"2018-10-11","s":"11 Oct '18","k":"b","z":1},
      {"t":"2018-11-08","s":"08 Nov '18","k":"b","z":1},
      {"t":"2019-03-31","s":"31 Mar '19","k":"b","z":1}
    ],
    "ab": [
      {"t":"2019-10-15","p":17681.7,"k":"dark"},
      {"t":"2019-10-25","p":8328,"k":"teal"}
    ],
    "ico": [
      {"t":"2017-12-13","p":26566,"k":"f"},
      {"t":"2018-01-27","p":23770,"k":"i"},{"t":"2018-02-05","p":23770,"k":"i"},{"t":"2018-02-14","p":23770,"k":"i"},
      {"t":"2018-01-27","p":21275,"k":"i"},{"t":"2018-02-05","p":21275,"k":"i"},{"t":"2018-02-14","p":21275,"k":"i"}
    ],
    "ring": [
      {"t":"2018-01-04","p":17338,"k":"circle"},
      {"t":"2017-12-03","p":26566,"k":"square"}
    ],
    "txt": [
      {"t":"2017-12-18","p":26566,"s":"Bitcoin / U.S. Dollar · 1D · BITFINEX","k":"t"},
      {"t":"2018-05-09","p":26566,"s":"O","k":"t"},
      {"t":"2018-05-14","p":26566,"s":"18956.0","k":"r"},
      {"t":"2018-06-11","p":26566,"s":"H","k":"t"},
      {"t":"2018-06-17","p":26566,"s":"19175.0","k":"r"},
      {"t":"2018-07-15","p":26566,"s":"L","k":"t"},
      {"t":"2018-07-19","p":26566,"s":"18010.0","k":"r"},
      {"t":"2018-08-16","p":26566,"s":"C","k":"t"},
      {"t":"2018-08-21","p":26566,"s":"18928.0","k":"r"},
      {"t":"2018-09-18","p":26566,"s":"−32.0 (−0.17%)","k":"r"},
      {"t":"2017-11-28","p":23770,"s":"MA (111, close) ˅","k":"t"},
      {"t":"2018-02-22","p":23770,"s":"7233.3","k":"m1"},
      {"t":"2017-11-28","p":21275,"s":"MA (128, close) ˅","k":"t"},
      {"t":"2018-02-22","p":21275,"s":"6835.2","k":"m2"},
      {"t":"2017-11-23","p":17338,"s":"0.838(17288.9)","k":"x"},
      {"t":"2019-10-29","p":17681.7,"s":"17681.7","k":"w"},
      {"t":"2019-10-29","p":8328,"s":"8328.0","k":"w"},
      {"t":"2019-10-19","p":17681.7,"s":"+","k":"w"}
    ]
  },
  "resolve": {"scale": {"color": "independent", "shape": "independent", "size": "independent"}},
  "layer": [
    {
      "data": {"name": "c"},
      "mark": {"type": "rule", "strokeWidth": 1},
      "encoding": {
        "x": {"field": "t", "type": "temporal", "axis": null,
              "scale": {"domain": [{"year": 2017, "month": 11, "date": 21, "utc": true}, {"year": 2019, "month": 10, "date": 25, "utc": true}]}},
        "y": {"field": "l", "type": "quantitative",
              "scale": {"type": "log", "domain": [2090, 28830], "nice": false},
              "axis": {"orient": "right", "title": null, "format": ".1f", "labelOverlap": false,
                       "values": [2640, 3000, 3400, 3900, 4500, 5300, 6100, 7100, 9500, 11000, 13000, 15000, 17000, 20000, 24000, 28000],
                       "grid": true, "gridColor": "#eceff5", "domainColor": "#8a8d96", "tickColor": "#8a8d96", "tickSize": 4,
                       "labelPadding": 3, "labelColor": "#131722", "labelFontSize": 8.6, "labelFont": "Liberation Sans"}},
        "y2": {"field": "h"},
        "color": {"condition": {"test": "datum.c >= datum.o", "value": "#26a69a"}, "value": "#ef5350"}
      }
    },
    {
      "data": {"name": "mo"},
      "transform": [{"filter": "datum.k != 'gear'"}],
      "mark": {"type": "rule", "color": "#eceff5", "strokeWidth": 1},
      "encoding": {
        "x": {"field": "t", "type": "temporal", "axis": null},
        "y": {"datum": 28830},
        "y2": {"datum": 2335}
      }
    },
    {
      "data": {"name": "c"},
      "mark": {"type": "rule", "strokeWidth": 1},
      "encoding": {
        "x": {"field": "t", "type": "temporal", "axis": null},
        "y": {"field": "l", "type": "quantitative"},
        "y2": {"field": "h"},
        "color": {"condition": {"test": "datum.c >= datum.o", "value": "#26a69a"}, "value": "#ef5350"}
      }
    },
    {
      "data": {"name": "c"},
      "mark": {"type": "rule", "strokeWidth": 2.2},
      "encoding": {
        "x": {"field": "t", "type": "temporal", "axis": null},
        "y": {"field": "o", "type": "quantitative"},
        "y2": {"field": "c"},
        "color": {"condition": {"test": "datum.c >= datum.o", "value": "#26a69a"}, "value": "#ef5350"}
      }
    },
    {
      "mark": {"type": "rule", "color": "#26a69a", "opacity": 0.3, "strokeWidth": 1},
      "encoding": {"y": {"datum": 8328}}
    },
    {
      "data": {"name": "ma"},
      "mark": {"type": "line", "strokeWidth": 1.5, "interpolate": "monotone"},
      "encoding": {
        "x": {"field": "t", "type": "temporal", "axis": null},
        "y": {"field": "v", "type": "quantitative"},
        "color": {"field": "s", "type": "nominal", "scale": {"domain": ["a", "b"], "range": ["#cc86dc", "#90c7f0"]}, "legend": null}
      }
    },
    {
      "data": {"name": "ev"},
      "mark": {"type": "rule", "color": "#a0a3ab", "strokeWidth": 1.5},
      "encoding": {
        "x": {"field": "t", "type": "temporal", "axis": null},
        "y": {"datum": 28830},
        "y2": {"datum": 2335}
      }
    },
    {
      "data": {"name": "ar"},
      "mark": {"type": "line", "strokeWidth": 1.5, "color": "#ffa319"},
      "encoding": {
        "x": {"field": "t", "type": "temporal", "axis": null},
        "y": {"field": "p", "type": "quantitative"},
        "detail": {"field": "g"},
        "order": {"field": "i"}
      }
    },
    {
      "data": {"values": [{"a": "2017-11-21", "b": "2019-11-24"}]},
      "mark": {"type": "rule", "color": "#8a8d96", "strokeWidth": 1},
      "encoding": {
        "x": {"field": "a", "type": "temporal", "axis": null},
        "x2": {"field": "b"},
        "y": {"datum": 2335}
      }
    },
    {
      "data": {"name": "mo"},
      "transform": [{"filter": "datum.k != 'n'"}],
      "mark": {"type": "text", "align": "center", "baseline": "middle", "color": "#5d606b"},
      "encoding": {
        "x": {"field": "t", "type": "temporal", "axis": null},
        "y": {"datum": 2197},
        "text": {"field": "s"},
        "size": {"condition": {"test": "datum.k == 'gear'", "value": 14}, "value": 8.5}
      }
    },
    {
      "data": {"name": "bx"},
      "transform": [{"filter": "datum.z == 0"}],
      "mark": {"type": "point", "shape": "M-2.7,-1H2.7V1H-2.7Z", "filled": true, "size": 256, "opacity": 1, "strokeWidth": 0},
      "encoding": {
        "x": {"field": "t", "type": "temporal", "axis": null},
        "y": {"datum": 2197},
        "color": {"condition": {"test": "datum.k == 'g'", "value": "#5d606b"}, "value": "#131722"}
      }
    },
    {
      "data": {"name": "bx"},
      "transform": [{"filter": "datum.z == 0"}],
      "mark": {"type": "text", "align": "left", "baseline": "middle", "color": "white", "fontSize": 8, "dx": -19, "limit": 18, "ellipsis": " "},
      "encoding": {
        "x": {"field": "t", "type": "temporal", "axis": null},
        "y": {"datum": 2197},
        "text": {"field": "s"}
      }
    },
    {
      "data": {"name": "bx"},
      "transform": [{"filter": "datum.z == 1"}],
      "mark": {"type": "point", "shape": "M-2.7,-1H2.7V1H-2.7Z", "filled": true, "size": 256, "opacity": 1, "strokeWidth": 0},
      "encoding": {
        "x": {"field": "t", "type": "temporal", "axis": null},
        "y": {"datum": 2197},
        "color": {"condition": {"test": "datum.k == 'g'", "value": "#5d606b"}, "value": "#131722"}
      }
    },
    {
      "data": {"name": "bx"},
      "transform": [{"filter": "datum.z == 1"}],
      "mark": {"type": "text", "align": "center", "baseline": "middle", "color": "white", "fontSize": 8},
      "encoding": {
        "x": {"field": "t", "type": "temporal", "axis": null},
        "y": {"datum": 2197},
        "text": {"field": "s"}
      }
    },
    {
      "data": {"name": "ab"},
      "mark": {"type": "point", "filled": true, "size": 144, "opacity": 1, "strokeWidth": 0},
      "encoding": {
        "x": {"field": "t", "type": "temporal", "axis": null},
        "y": {"field": "p", "type": "quantitative"},
        "shape": {"field": "k", "type": "nominal", "scale": {"domain": ["dark", "teal"], "range": ["M0,-1H9.5V1H0Z", "M0,-1H6.2V1H0Z"]}, "legend": null},
        "color": {"field": "k", "type": "nominal", "scale": {"domain": ["dark", "teal"], "range": ["#4c525e", "#26a69a"]}, "legend": null}
      }
    },
    {
      "data": {"name": "ico"},
      "mark": {"type": "point", "shape": "square", "filled": true, "size": 90, "opacity": 1, "strokeWidth": 0},
      "encoding": {
        "x": {"field": "t", "type": "temporal", "axis": null},
        "y": {"field": "p", "type": "quantitative"},
        "color": {"field": "k", "type": "nominal", "scale": {"domain": ["f", "i"], "range": ["#f23645", "#d6d9df"]}, "legend": null}
      }
    },
    {
      "data": {"name": "ring"},
      "mark": {"type": "point", "filled": false, "size": 100, "opacity": 1, "strokeWidth": 1.2},
      "encoding": {
        "x": {"field": "t", "type": "temporal", "axis": null},
        "y": {"field": "p", "type": "quantitative"},
        "shape": {"field": "k", "type": "nominal", "scale": {"domain": ["circle", "square"], "range": ["circle", "square"]}, "legend": null},
        "color": {"field": "k", "type": "nominal", "scale": {"domain": ["circle", "square"], "range": ["#2196f3", "#787b86"]}, "legend": null}
      }
    },
    {
      "data": {"name": "txt"},
      "mark": {"type": "text", "align": "left", "baseline": "middle"},
      "encoding": {
        "x": {"field": "t", "type": "temporal", "axis": null},
        "y": {"field": "p", "type": "quantitative"},
        "text": {"field": "s"},
        "size": {"condition": {"test": "datum.k == 'w'", "value": 8.8}, "value": 10.8},
        "color": {"field": "k", "type": "nominal",
                  "scale": {"domain": ["t", "r", "m1", "m2", "x", "w"], "range": ["#131722", "#ef5350", "#ab47bc", "#2196f3", "#c2189b", "#ffffff"]},
                  "legend": null}
      }
    }
  ]
}
